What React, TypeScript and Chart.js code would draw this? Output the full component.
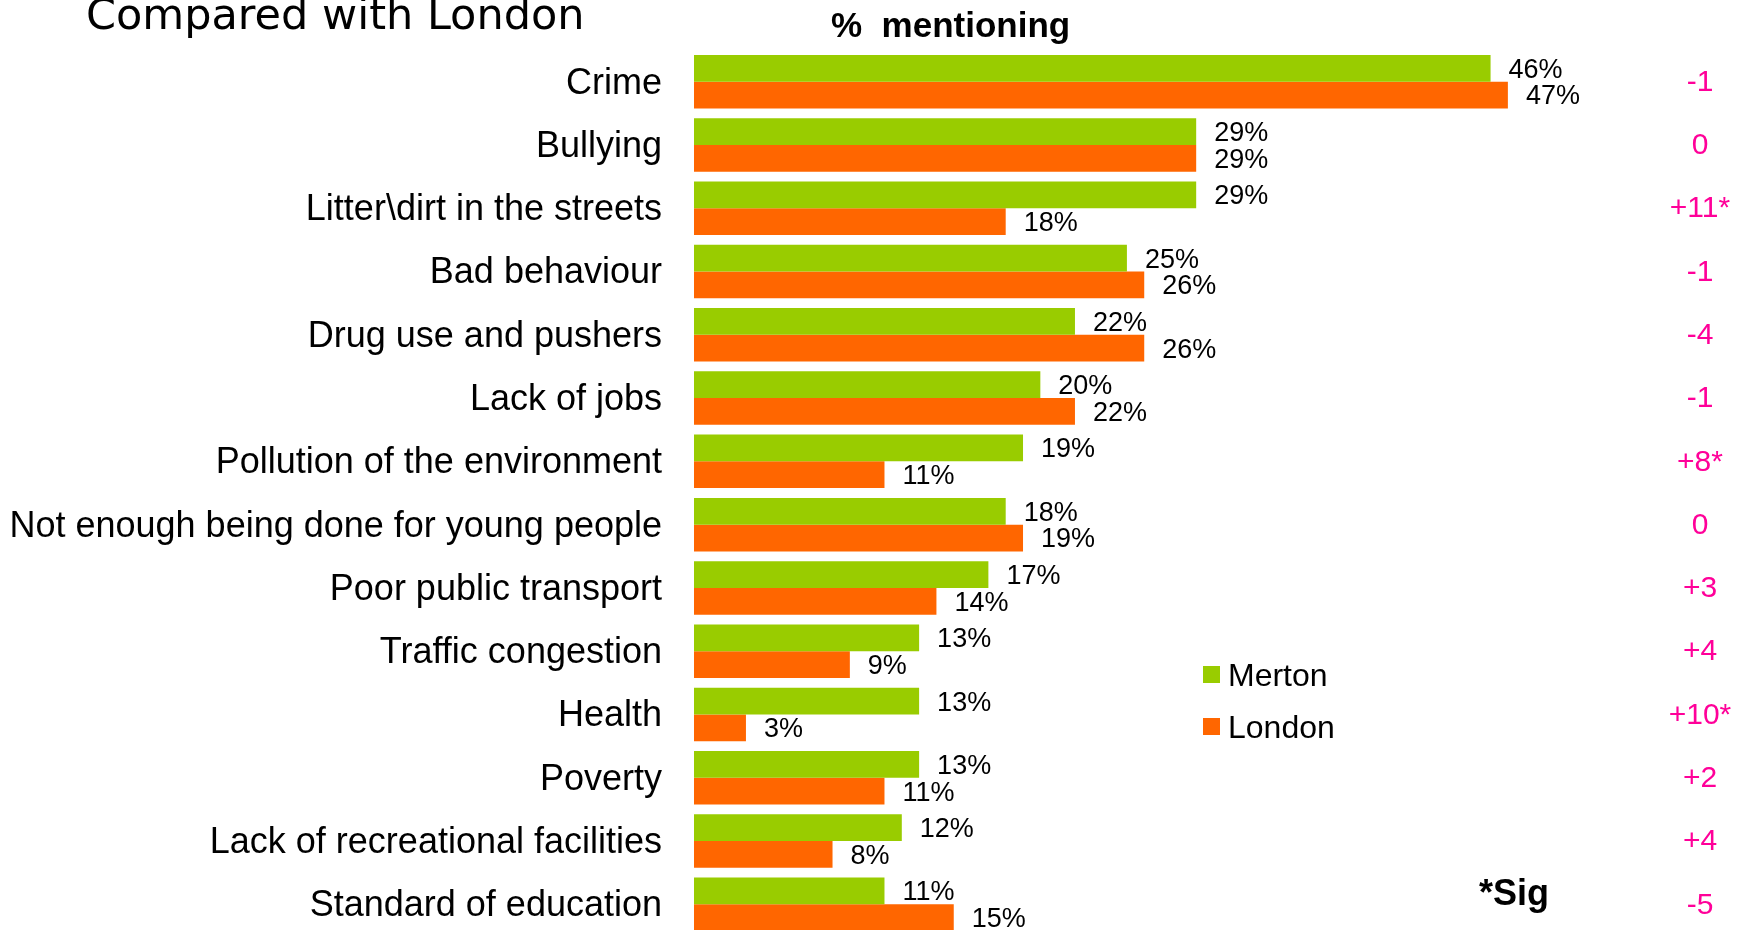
import React, { useEffect, useRef } from "react";
import { Chart, registerables } from "chart.js";

Chart.register(...registerables);

const categories = [
  "Crime",
  "Bullying",
  "Litter\\dirt in the streets",
  "Bad behaviour",
  "Drug use and pushers",
  "Lack of jobs",
  "Pollution of the environment",
  "Not enough being done for young people",
  "Poor public transport",
  "Traffic congestion",
  "Health",
  "Poverty",
  "Lack of recreational facilities",
  "Standard of education",
];

const mertonValues = [46, 29, 29, 25, 22, 20, 19, 18, 17, 13, 13, 13, 12, 11];
const londonValues = [47, 29, 18, 26, 26, 22, 11, 19, 14, 9, 3, 11, 8, 15];
const differenceLabels = ["-1", "0", "+11*", "-1", "-4", "-1", "+8*", "0", "+3", "+4", "+10*", "+2", "+4", "-5"];

const titleText = "Compared with London";
const headerText = "%  mentioning";
const sigText = "*Sig";

const GREEN = "#99cc00";
const ORANGE = "#ff6600";
const MAGENTA = "#ff0099";
const SANS = "Arial, 'Liberation Sans', sans-serif";

const W = 1745;
const H = 936;

const extrasPlugin = {
  id: "extras",
  afterDatasetsDraw(chart: any) {
    const ctx = chart.ctx;
    ctx.save();
    // value labels
    ctx.font = `27px ${SANS}`;
    ctx.fillStyle = "#000";
    ctx.textAlign = "left";
    ctx.textBaseline = "middle";
    chart.data.datasets.forEach((ds: any, di: number) => {
      const meta = chart.getDatasetMeta(di);
      meta.data.forEach((bar: any, i: number) => {
        ctx.fillText(`${ds.data[i]}%`, bar.x + 18, bar.y + 2);
      });
    });
    // difference labels
    const yScale = chart.scales.y;
    ctx.font = `30px ${SANS}`;
    ctx.fillStyle = MAGENTA;
    ctx.textAlign = "center";
    differenceLabels.forEach((t, i) => {
      ctx.fillText(t, 1700, yScale.getPixelForValue(i) + 1);
    });
    // title
    ctx.fillStyle = "#000";
    ctx.textAlign = "left";
    ctx.textBaseline = "alphabetic";
    ctx.font = `43px 'DejaVu Sans', Verdana, sans-serif`;
    ctx.fillText(titleText, 86, 29);
    // header
    ctx.font = `bold 35px ${SANS}`;
    ctx.fillText(headerText, 831, 37);
    // sig
    ctx.font = `bold 36px ${SANS}`;
    ctx.fillText(sigText, 1479, 905);
    // legend
    const legendY = [666, 718];
    ctx.font = `32px ${SANS}`;
    chart.data.datasets.forEach((ds: any, di: number) => {
      ctx.fillStyle = ds.backgroundColor;
      ctx.fillRect(1203, legendY[di], 17, 17);
      ctx.fillStyle = "#000";
      ctx.fillText(ds.label, 1228, legendY[di] + 20);
    });
    ctx.restore();
  },
};

export default function App() {
  const canvasRef = useRef<HTMLCanvasElement>(null);

  useEffect(() => {
    if (!canvasRef.current) return;
    const chart = new Chart(canvasRef.current, {
      type: "bar",
      data: {
        labels: categories,
        datasets: [
          { label: "Merton", data: mertonValues, backgroundColor: GREEN, borderWidth: 0 },
          { label: "London", data: londonValues, backgroundColor: ORANGE, borderWidth: 0 },
        ],
      },
      options: {
        indexAxis: "y",
        responsive: false,
        maintainAspectRatio: false,
        aspectRatio: W / H,
        animation: false,
        devicePixelRatio: 1,
        layout: { padding: { top: 50, bottom: 0, left: 0, right: 12 } },
        datasets: { bar: { categoryPercentage: 0.845, barPercentage: 1.0 } },
        plugins: { legend: { display: false }, tooltip: { enabled: false }, title: { display: false } },
        scales: {
          x: { display: false, min: 0, max: 60 },
          y: {
            afterFit: (s: any) => {
              s.width = 694;
              s.paddingTop = 0;
              s.paddingBottom = 0;
            },
            grid: { display: false, drawTicks: false },
            border: { display: false },
            ticks: { color: "#000", font: { size: 36, family: SANS }, padding: 32, labelOffset: 2, autoSkip: false },
          },
        },
      },
      plugins: [extrasPlugin],
    });
    return () => chart.destroy();
  }, []);

  return (
    <div style={{ position: "absolute", left: 0, top: 0, width: W, height: 930, overflow: "hidden", background: "#fff" }}>
      <canvas ref={canvasRef} width={W} height={H} />
    </div>
  );
}
